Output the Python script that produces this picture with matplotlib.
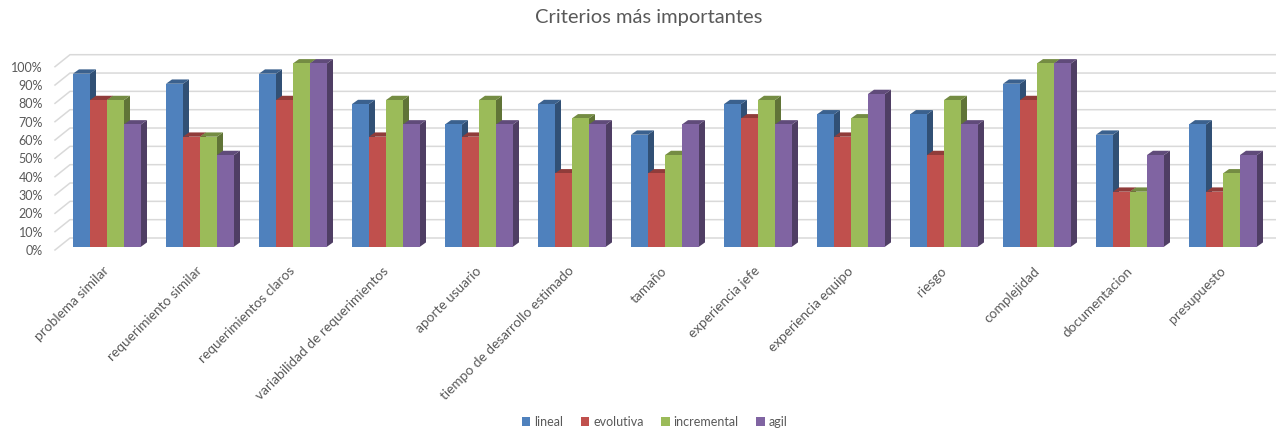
import numpy as np
import matplotlib
matplotlib.use("Agg")
import matplotlib.pyplot as plt
import matplotlib.transforms as mtransforms
from matplotlib.patches import Polygon, Patch
from matplotlib.colors import to_rgb

# DADOS

criterios = [
    "problema similar", "requerimiento similar", "requerimientos claros",
    "variabilidad de requerimientos", "aporte usuario",
    "tiempo de desarrollo estimado", "tamaño", "experiencia jefe",
    "experiencia equipo", "riesgo", "complejidad", "documentacion",
    "presupuesto",
]

lineal = [0.944, 0.889, 0.944, 0.778, 0.667, 0.778, 0.611, 0.778, 0.722,
          0.722, 0.889, 0.611, 0.667]
evolutiva = [0.80, 0.60, 0.80, 0.60, 0.60, 0.40, 0.40, 0.70, 0.60, 0.50,
             0.80, 0.30, 0.30]
incremental = [0.80, 0.60, 1.00, 0.80, 0.80, 0.70, 0.50, 0.80, 0.70, 0.80,
               1.00, 0.30, 0.40]
agil = [0.667, 0.50, 1.00, 0.667, 0.667, 0.667, 0.667, 0.667, 0.833, 0.667,
        1.00, 0.50, 0.50]

series = ["lineal", "evolutiva", "incremental", "agil"]
valores = [lineal, evolutiva, incremental, agil]
cores = ["#4F81BD", "#C0504D", "#9BBB59", "#8064A2"]

ticks_y = np.arange(0, 1.01, 0.1)
rotulos_y = [f"{int(round(t * 100))}%" for t in ticks_y]

# FIGURA (pixels: 1276 x 432)

W, H = 1276, 432
fig = plt.figure(figsize=(W / 100, H / 100), dpi=100)
plt.rcParams["font.family"] = ["Lato", "DejaVu Sans"]
cinza = "#595959"

# eixo: x=0 no centro do 1o grupo (px 107), 93 px por grupo
px_grupo = 93.0
px_100 = 183.3
base_px = 246.7
x0 = 107 - 0.5 * px_grupo
ax = fig.add_axes([x0 / W, (H - base_px) / H, 13 * px_grupo / W, px_100 / H])
ax.set_xlim(-0.5, 12.5)
ax.set_ylim(0, 1)
for s in ax.spines.values():
    s.set_visible(False)


def px_x(p):
    return (p - 107) / px_grupo


# linhas de grade no fundo (3D)
for t in ticks_y:
    yf = t - 3.3 / px_100
    yb = t + 8.7 / px_100
    ax.plot([px_x(55), px_x(70), px_x(1280)], [yf, yb, yb],
            color="#D9D9D9", lw=1.1, clip_on=False, zorder=0)

# BARRAS 3D
largura = 17 / px_grupo
dx = 6 / px_grupo
dy = 4.3 / px_100
x = np.arange(len(criterios))


def escurecer(cor, f):
    r, g, b = to_rgb(cor)
    return (r * f, g * f, b * f)


z = 2
for k, (vals, cor) in enumerate(zip(valores, cores)):
    pos = x - 2 * largura + k * largura
    for xi, v in zip(pos, vals):
        lado = Polygon([(xi + largura, 0), (xi + largura + dx, dy),
                        (xi + largura + dx, v + dy), (xi + largura, v)],
                       closed=True, facecolor=escurecer(cor, 0.62),
                       edgecolor="none", clip_on=False, zorder=z)
        topo = Polygon([(xi, v), (xi + dx, v + dy),
                        (xi + largura + dx, v + dy), (xi + largura, v)],
                       closed=True, facecolor=escurecer(cor, 0.75),
                       edgecolor="none", clip_on=False, zorder=z)
        ax.add_patch(lado)
        ax.add_patch(topo)
        ax.bar(xi, v, width=largura, align="edge", color=cor,
               edgecolor="none", clip_on=False, zorder=z + 0.5)
        z += 1

# EIXOS E RÓTULOS

ax.set_yticks(ticks_y)
ax.set_yticklabels(rotulos_y, fontsize=9, color=cinza)
ax.tick_params(axis="y", length=0, pad=12.6)
desloc_y = mtransforms.ScaledTranslation(0, -3.3 / 100, fig.dpi_scale_trans)
for lab in ax.get_yticklabels():
    lab.set_transform(lab.get_transform() + desloc_y)

ax.set_xticks(x)
ax.set_xticklabels(criterios, fontsize=9.8, color=cinza)
ax.tick_params(axis="x", length=0, pad=13)
desloc_x = mtransforms.ScaledTranslation(-4 / 100, 0, fig.dpi_scale_trans)
for lab in ax.get_xticklabels():
    lab.set_rotation(45)
    lab.set_ha("right")
    lab.set_va("top")
    lab.set_rotation_mode("anchor")
    lab.set_transform(lab.get_transform() + desloc_x)

fig.text(0.508, 1 - 18 / H, "Criterios más importantes", ha="center",
         va="center", fontsize=14.5, color=cinza)

handles = [Patch(facecolor=c, edgecolor="none") for c in cores]
fig.legend(handles, series, loc="center", bbox_to_anchor=(0.513, 10 / H),
           ncol=4, frameon=False, fontsize=9, handlelength=0.7,
           handleheight=0.7, handletextpad=0.3, columnspacing=1.4,
           labelcolor=cinza)

fig.savefig("out.png", dpi=100, facecolor="white")
